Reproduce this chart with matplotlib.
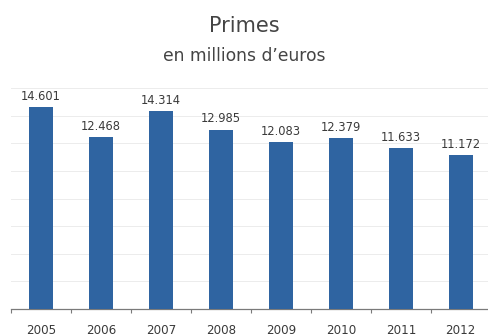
import matplotlib
matplotlib.use("Agg")
import matplotlib.pyplot as plt
from matplotlib.ticker import FixedLocator

years = ["2005", "2006", "2007", "2008", "2009", "2010", "2011", "2012"]
primes = [14.601, 12.468, 14.314, 12.985, 12.083, 12.379, 11.633, 11.172]
value_labels = ["14.601", "12.468", "14.314", "12.985", "12.083", "12.379", "11.633", "11.172"]

bar_color = "#2f64a1"
text_color = "#3a3a3a"

fig = plt.figure(figsize=(4.89, 3.36), dpi=100)
fig.patch.set_facecolor("white")
ax = fig.add_axes([11 / 489, 27 / 336, 478 / 489, 221 / 336])

x = list(range(len(years)))
bars = ax.bar(x, primes, width=0.39, color=bar_color, zorder=3)

for rect, lab in zip(bars, value_labels):
    ax.annotate(lab, (rect.get_x() + rect.get_width() / 2, rect.get_height()),
                xytext=(0, 3), textcoords="offset points",
                ha="center", va="bottom", fontsize=8.3, color=text_color)

ax.set_xlim(-0.5, 7.47)
ax.set_ylim(0, 16)

# light horizontal grid, no y labels
ax.set_yticks(range(0, 17, 2))
ax.yaxis.grid(True, color="#ececec", linewidth=0.7, zorder=0)
ax.tick_params(axis="y", left=False, labelleft=False)

ax.set_xticks(x)
ax.set_xticklabels(years)
ax.tick_params(axis="x", which="major", length=0, pad=11, labelsize=8.6, labelcolor=text_color)
ax.xaxis.set_minor_locator(FixedLocator([i + 0.5 for i in range(-1, 8)]))
ax.tick_params(axis="x", which="minor", length=3, width=0.8, color="#7a7a7a", direction="out")

for side in ("top", "right", "left"):
    ax.spines[side].set_visible(False)
ax.spines["bottom"].set_color("#7a7a7a")
ax.spines["bottom"].set_linewidth(0.9)

fig.text(0.5, 1 - 26 / 336, "Primes", ha="center", va="center", fontsize=15, color="#444444")
fig.text(0.5, 1 - 56 / 336, "en millions d\u2019euros", ha="center", va="center", fontsize=12.3, color="#444444")

fig.savefig("out.png", dpi=100, facecolor="white")
